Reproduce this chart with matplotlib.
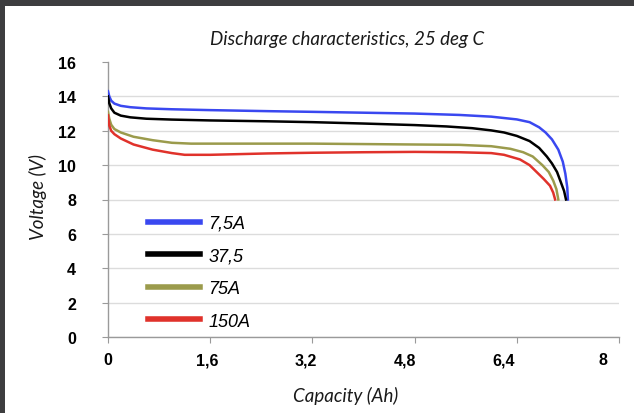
import matplotlib
matplotlib.use('Agg')
import matplotlib.pyplot as plt
from matplotlib.patches import Rectangle
from matplotlib.transforms import ScaledTranslation

# discharge curves: capacity (Ah) -> voltage (V)
cap_7_5 = [0, 0.02, 0.05, 0.1, 0.2, 0.35, 0.6, 1.0, 1.6, 2.5, 3.2, 4.0, 4.8, 5.5, 6.0,
           6.4, 6.6, 6.75, 6.85, 6.95, 7.05, 7.12, 7.16, 7.19, 7.2]
volt_7_5 = [14.3, 14.0, 13.75, 13.58, 13.45, 13.37, 13.3, 13.25, 13.2, 13.14, 13.1, 13.05, 13.0, 12.92, 12.82,
            12.66, 12.5, 12.2, 11.9, 11.5, 10.9, 10.2, 9.5, 8.7, 8.0]

cap_37_5 = [0, 0.02, 0.05, 0.1, 0.2, 0.35, 0.6, 1.0, 1.6, 2.5, 3.2, 4.0, 4.8, 5.3, 5.7,
            6.0, 6.2, 6.4, 6.6, 6.75, 6.87, 6.95, 7.03, 7.1, 7.14, 7.17]
volt_37_5 = [14.0, 13.6, 13.3, 13.05, 12.88, 12.78, 12.7, 12.65, 12.6, 12.55, 12.5, 12.42, 12.33, 12.25, 12.15,
             12.02, 11.9, 11.7, 11.4, 11.0, 10.5, 10.1, 9.6, 8.9, 8.5, 8.0]

cap_75 = [0, 0.02, 0.05, 0.1, 0.2, 0.4, 0.7, 1.0, 1.3, 2.0, 3.2, 4.8, 5.5, 6.0,
          6.3, 6.5, 6.65, 6.8, 6.9, 6.97, 7.02, 7.05]
volt_75 = [13.1, 12.7, 12.35, 12.1, 11.9, 11.65, 11.45, 11.3, 11.25, 11.25, 11.25, 11.2, 11.18, 11.1,
           10.95, 10.75, 10.5, 10.0, 9.6, 9.1, 8.6, 8.0]

cap_150 = [0, 0.02, 0.05, 0.1, 0.2, 0.4, 0.7, 1.0, 1.2, 1.6, 2.5, 3.2, 4.0, 4.8, 5.5, 6.0,
           6.2, 6.45, 6.6, 6.71, 6.82, 6.92, 6.97, 7.0]
volt_150 = [12.9, 12.3, 12.0, 11.8, 11.55, 11.2, 10.9, 10.7, 10.6, 10.6, 10.68, 10.72, 10.75, 10.77, 10.75, 10.7,
            10.6, 10.33, 10.0, 9.6, 9.2, 8.8, 8.4, 8.0]

labels = ['7,5A', '37,5', '75A', '150A']
colors = ['#3a48f0', '#000000', '#9b9b4c', '#e0322b']

x_ticks = [0, 1.6, 3.2, 4.8, 6.4, 8]
x_tick_labels = ['0', '1,6', '3,2', '4,8', '6,4', '8']
y_ticks = [0, 2, 4, 6, 8, 10, 12, 14, 16]

W, H = 634, 414
fig = plt.figure(figsize=(W / 100, H / 100), dpi=100)
fig.patch.set_facecolor('#3d3d3f')
fig.patches.append(Rectangle((5 / W, 0), 1, 1 - 7 / H, transform=fig.transFigure,
                             facecolor='white', edgecolor='none', zorder=-1))

ax = fig.add_axes([108 / W, 1 - 338 / H, (619 - 108) / W, (338 - 63) / H])
ax.set_facecolor('white')

series = [(cap_7_5, volt_7_5), (cap_37_5, volt_37_5), (cap_75, volt_75), (cap_150, volt_150)]
for (cx, vy), lab, col in zip(series, labels, colors):
    ax.plot(cx, vy, color=col, lw=1.8, label=lab, zorder=3)

ax.set_xlim(0, 8)
ax.set_ylim(0, 16)
ax.set_xticks(x_ticks)
ax.set_xticklabels(x_tick_labels)
ax.set_yticks(y_ticks)

for s in ['top', 'right']:
    ax.spines[s].set_visible(False)
for s in ['left', 'bottom']:
    ax.spines[s].set_color('#9a9a9a')
    ax.spines[s].set_linewidth(1.0)

ax.grid(axis='y', color='#dcdcdc', lw=1.0, zorder=0)
ax.yaxis.get_gridlines()[-1].set_visible(False)

ax.tick_params(axis='y', direction='out', length=4, color='#9a9a9a', pad=19)
ax.tick_params(axis='x', direction='out', length=4, color='#9a9a9a', pad=7)
for t in ax.get_xticklabels() + ax.get_yticklabels():
    t.set_fontfamily('Liberation Sans')
    t.set_fontweight('bold')
    t.set_fontsize(11.5)
# the x labels in the original sit a little left of their ticks, more so further right
for i, t in enumerate(ax.get_xticklabels()):
    t.set_transform(t.get_transform() + ScaledTranslation(-3.2 * i / 100, 0, fig.dpi_scale_trans))

title_font = dict(family='Lato', style='italic', size=13.5, color='#1a1a1a')
fig.text(347 / W, 1 - 40 / H, 'Discharge characteristics, 25 deg C', ha='center', va='center', **title_font)
fig.text(346 / W, 1 - 396 / H, 'Capacity (Ah)', ha='center', va='center', **title_font)
fig.text(38 / W, 1 - 197 / H, 'Voltage (V)', ha='center', va='center', rotation=90, **title_font)

leg = ax.legend(loc='upper left', bbox_to_anchor=(148 / W, 1 - 216 / H), bbox_transform=fig.transFigure,
                frameon=False, borderpad=0, borderaxespad=0, handlelength=2.9, handletextpad=0.45,
                labelspacing=0.86, prop=dict(family='Liberation Sans', style='italic', size=13))
for h in leg.get_lines():
    h.set_linewidth(4)

fig.savefig('out.png', dpi=100, facecolor=fig.get_facecolor())
